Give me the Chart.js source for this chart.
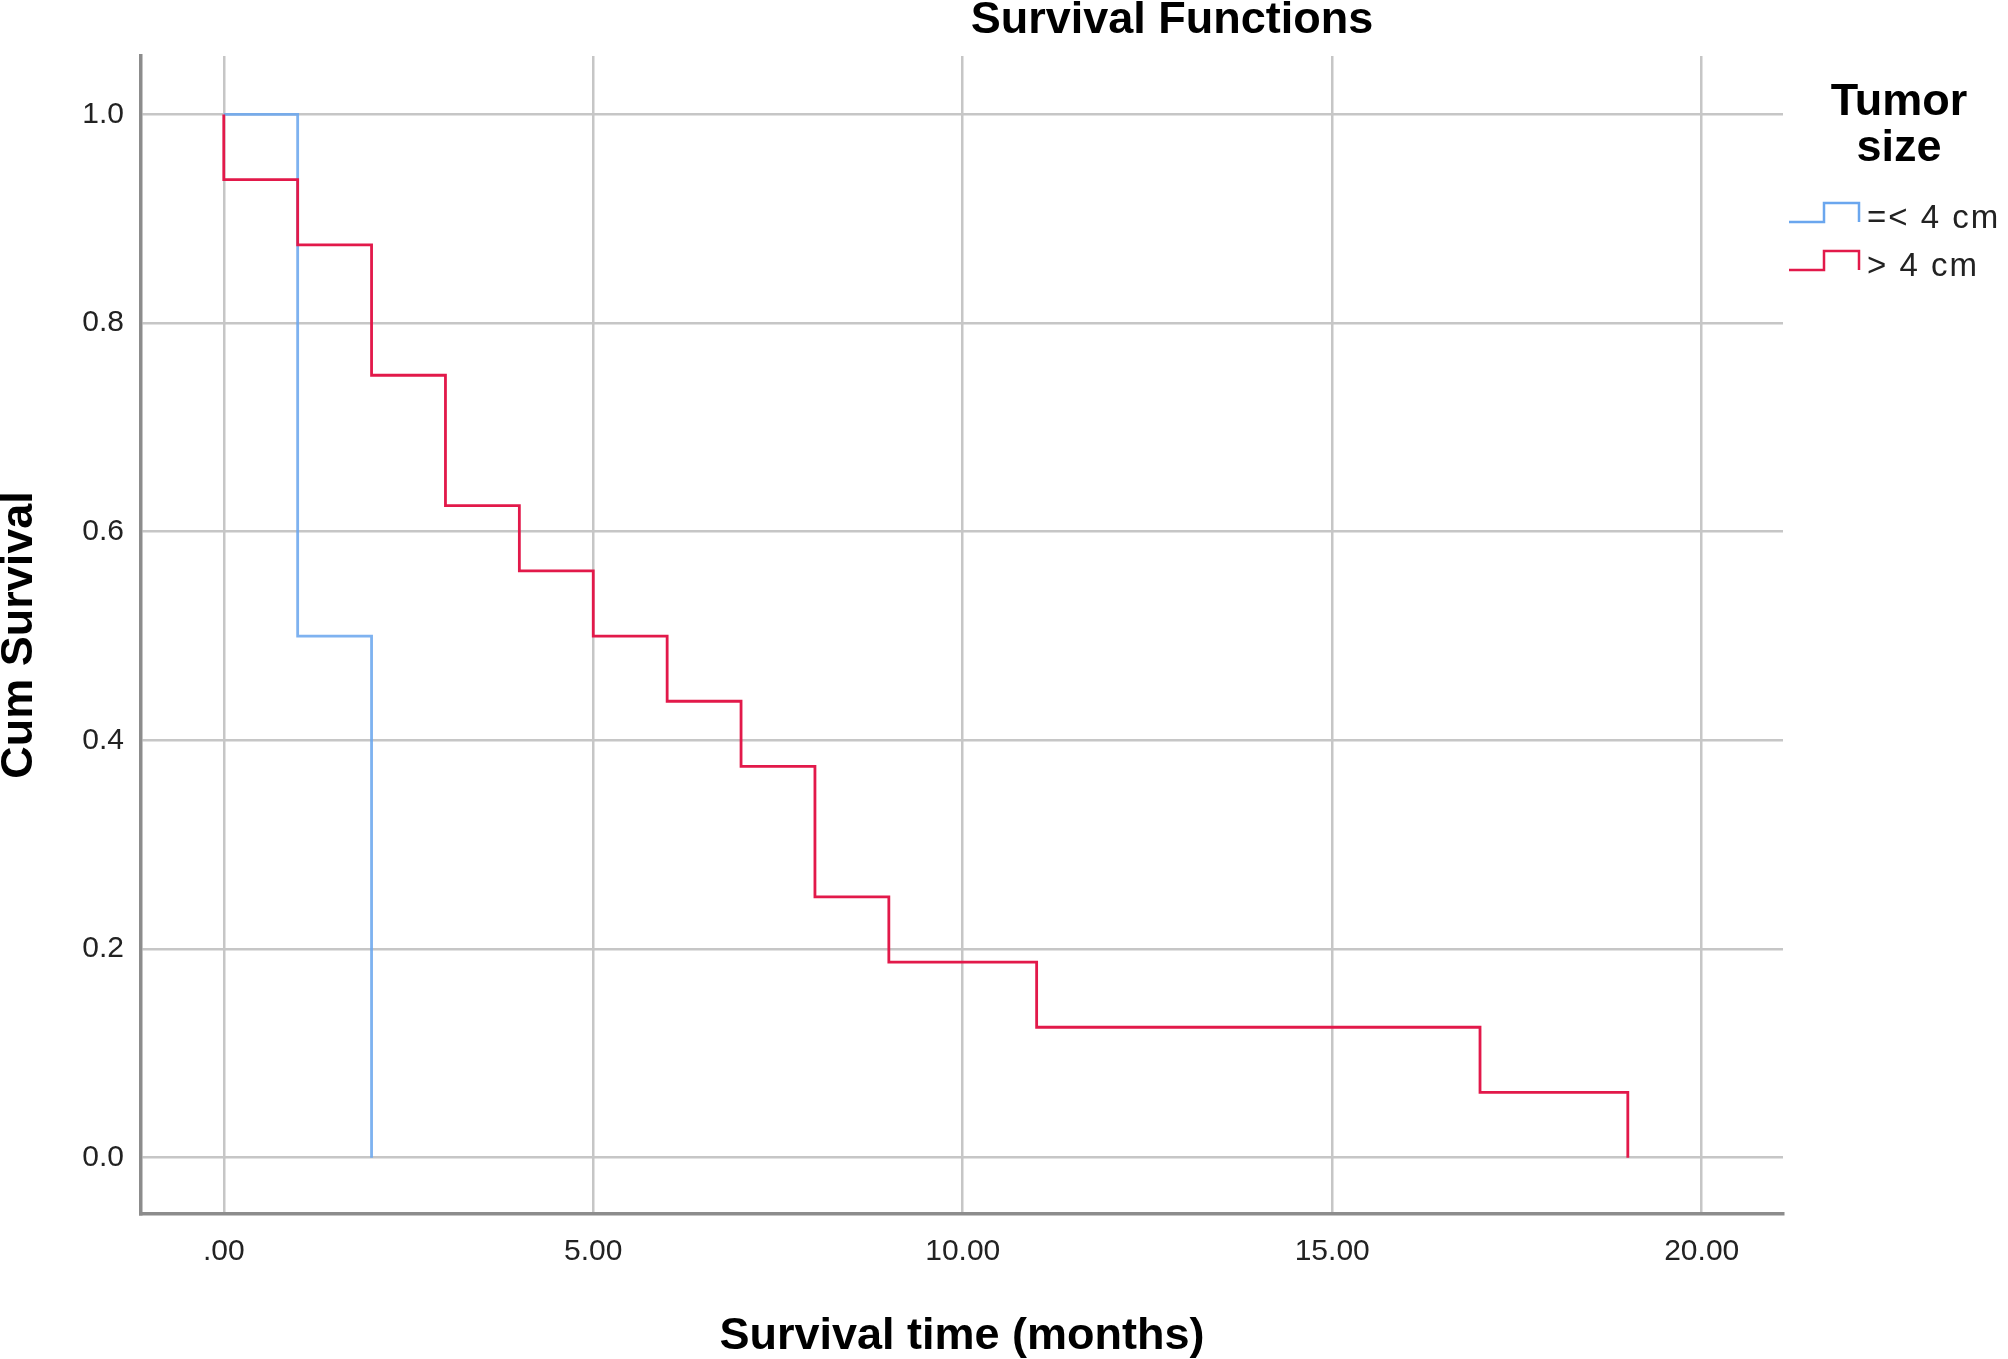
<!DOCTYPE html>
<html lang="en">
<head>
    <meta charset="UTF-8">
    <title>Survival Functions</title>
    <script src="https://cdn.jsdelivr.net/npm/chart.js"></script>
    <style>
        body {
            margin: 0;
            background: #ffffff;
        }
        canvas {
            display: block;
        }
    </style>
</head>
<body>
    <canvas id="kmChart" width="2008" height="1359"></canvas>

    <script>
        // Kaplan-Meier steps: time of event and survival after it
        const smallTimes = [0, 1, 2];
        const smallSurvival = [1.0, 0.5, 0.0];
        const largeTimes = [0, 0, 1, 2, 3, 4, 5, 6, 7, 8, 9, 11, 17, 19];
        const largeSurvival = [1.0, 0.9375, 0.875, 0.75, 0.625, 0.5625, 0.5, 0.4375, 0.375, 0.25, 0.1875, 0.125, 0.0625, 0.0];

        const groupLabels = ["=< 4 cm", "> 4 cm"];
        const groupColors = ["#6aa6ee", "#e2194a"];
        const xTickValues = [0, 5, 10, 15, 20];
        const yTickValues = [0, 0.2, 0.4, 0.6, 0.8, 1.0];

        const toPoints = (xs, ys) => xs.map((x, i) => ({ x: x, y: ys[i] }));

        // titles and the step-shaped legend
        const decorations = {
            id: 'decorations',
            afterDraw(chart) {
                const ctx = chart.ctx;
                const area = chart.chartArea;
                ctx.save();
                ctx.fillStyle = '#000';
                ctx.textAlign = 'center';
                ctx.textBaseline = 'middle';
                ctx.font = 'bold 45px "Liberation Sans", Arial, sans-serif';
                ctx.fillText('Survival Functions', 1172, 21);
                ctx.fillText('Survival time (months)', (area.left + area.right) / 2, 1337);

                ctx.save();
                ctx.translate(20, (area.top + area.bottom) / 2);
                ctx.rotate(-Math.PI / 2);
                ctx.fillText('Cum Survival', 0, 0);
                ctx.restore();

                ctx.fillText('Tumor', 1899, 103);
                ctx.fillText('size', 1899, 149);

                ctx.textAlign = 'left';
                ctx.font = '33px "Liberation Sans", Arial, sans-serif';
                ctx.letterSpacing = '2px';
                const rows = [219, 267];
                groupLabels.forEach((label, i) => {
                    const low = rows[i] + 3, high = rows[i] - 16;
                    ctx.strokeStyle = groupColors[i];
                    ctx.lineWidth = 2.5;
                    ctx.beginPath();
                    ctx.moveTo(1789, low);
                    ctx.lineTo(1824, low);
                    ctx.lineTo(1824, high);
                    ctx.lineTo(1859, high);
                    ctx.lineTo(1859, low);
                    ctx.stroke();
                    ctx.fillStyle = '#222';
                    ctx.fillText(label, 1867, rows[i]);
                });
                ctx.restore();
            }
        };

        new Chart(document.getElementById('kmChart'), {
            type: 'line',
            data: {
                datasets: [{
                    label: groupLabels[1],
                    data: toPoints(largeTimes, largeSurvival),
                    borderColor: groupColors[1],
                    borderWidth: 2.8,
                    stepped: 'before',
                    pointRadius: 0,
                    fill: false
                }, {
                    label: groupLabels[0],
                    data: toPoints(smallTimes, smallSurvival),
                    borderColor: groupColors[0] + 'dd',
                    borderWidth: 2.8,
                    stepped: 'before',
                    pointRadius: 0,
                    fill: false
                }]
            },
            options: {
                responsive: false,
                devicePixelRatio: 1,
                animation: false,
                layout: {
                    padding: { left: 0, top: 56, right: 225, bottom: 0 }
                },
                plugins: {
                    legend: { display: false },
                    tooltip: { enabled: false },
                    title: { display: false }
                },
                scales: {
                    x: {
                        type: 'linear',
                        min: -1.12,
                        max: 21.1,
                        afterBuildTicks: (scale) => {
                            scale.ticks = xTickValues.map(v => ({ value: v }));
                        },
                        afterFit: (scale) => { scale.height = 145; },
                        ticks: {
                            padding: 20,
                            color: '#222',
                            font: { family: '"Liberation Sans", Arial, sans-serif', size: 30 },
                            callback: (v) => v === 0 ? '.00' : v.toFixed(2),
                            maxRotation: 0
                        },
                        grid: { color: '#c6c6c6', lineWidth: 2.5, drawTicks: false },
                        border: { color: '#8c8c8c', width: 3.5 }
                    },
                    y: {
                        type: 'linear',
                        min: -0.054,
                        max: 1.056,
                        afterBuildTicks: (scale) => {
                            scale.ticks = yTickValues.map(v => ({ value: v }));
                        },
                        afterFit: (scale) => { scale.width = 141; },
                        ticks: {
                            padding: 17,
                            color: '#222',
                            font: { family: '"Liberation Sans", Arial, sans-serif', size: 30 },
                            callback: (v) => v.toFixed(1)
                        },
                        grid: { color: '#c6c6c6', lineWidth: 2.5, drawTicks: false },
                        border: { color: '#8c8c8c', width: 3.5 }
                    }
                }
            },
            plugins: [decorations]
        });
    </script>
</body>
</html>
